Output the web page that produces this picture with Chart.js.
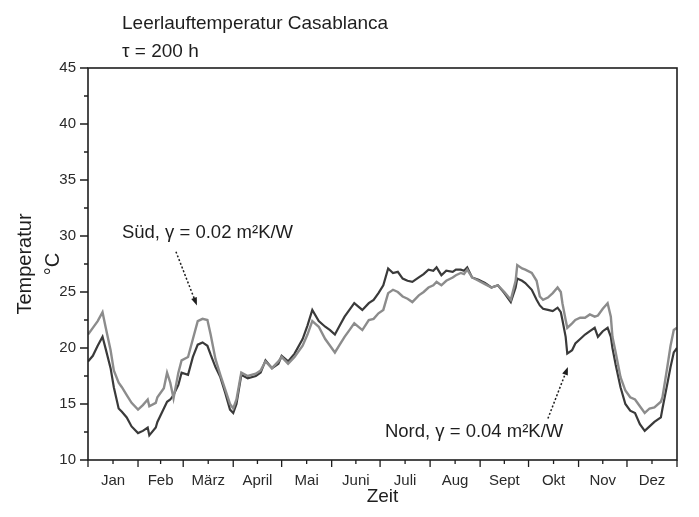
<!DOCTYPE html>
<html>
<head>
<meta charset="utf-8">
<script src="https://cdn.jsdelivr.net/npm/chart.js@4.4.1/dist/chart.umd.min.js"></script>
<style>
  html, body { margin: 0; padding: 0; background: #fff; }
  #wrap { width: 699px; height: 517px; position: relative; }
</style>
</head>
<body>
<div id="wrap"><canvas id="leerlauf"></canvas></div>
<script>
// Tag im Jahr (0..365)
const tage = [0, 3, 6, 9, 11, 14, 16, 19, 21, 24, 27, 31, 34, 37, 38, 42, 43, 47, 49, 51, 53, 56, 58, 62, 65, 68,
  71, 74, 76, 79, 82, 85, 88, 90, 92, 95, 99, 104, 107, 110, 114, 118, 120, 124, 128, 133, 136, 139, 143, 147,
  150, 153, 156, 159, 162, 165, 170, 174, 177, 180, 183, 186, 189, 192, 195, 198, 201, 205, 208, 211, 214, 216,
  219, 222, 226, 228, 231, 233, 235, 238, 242, 246, 250, 254, 258, 262, 265, 266, 269, 271, 275, 278, 280, 282,
  285, 288, 291, 293, 294, 296, 297, 300, 302, 305, 308, 311, 314, 316, 319, 322, 324, 325, 327, 330, 333, 336,
  339, 342, 345, 348, 351, 355, 356, 359, 361, 363, 365];

// Süd, gamma = 0.02 m²K/W
const sued = [21.2, 21.8, 22.4, 23.2, 21.8, 19.8, 18.0, 16.9, 16.5, 15.8, 15.1, 14.5, 14.9, 15.4, 14.8, 15.1, 15.6,
  16.4, 17.8, 16.9, 15.5, 17.8, 18.9, 19.2, 20.8, 22.4, 22.6, 22.5, 21.2, 19.0, 17.6, 16.3, 15.0, 14.6, 15.4, 17.8,
  17.5, 17.7, 18.0, 18.8, 18.2, 18.8, 19.2, 18.6, 19.2, 20.2, 21.2, 22.4, 21.9, 20.8, 20.2, 19.6, 20.3, 21.0, 21.6,
  22.2, 21.6, 22.5, 22.6, 23.1, 23.4, 24.9, 25.2, 25.0, 24.6, 24.4, 24.1, 24.7, 25.0, 25.4, 25.6, 25.9, 25.6, 26.0,
  26.3, 26.5, 26.7, 26.6, 27.0, 26.3, 26.0, 25.7, 25.4, 25.6, 25.0, 24.3, 26.0, 27.4, 27.1, 27.0, 26.7, 26.0, 24.6,
  24.3, 24.5, 24.9, 25.4, 25.0, 24.0, 22.5, 21.8, 22.2, 22.5, 22.7, 22.7, 23.0, 22.8, 22.9, 23.5, 24.0, 22.8, 21.0,
  19.6, 17.4, 16.2, 15.6, 15.4, 14.8, 14.2, 14.6, 14.7, 15.2, 15.6, 18.3, 20.2, 21.6, 21.8];

// Nord, gamma = 0.04 m²K/W
const nord = [18.8, 19.3, 20.2, 21.0, 19.9, 18.2, 16.5, 14.6, 14.3, 13.8, 13.0, 12.4, 12.6, 12.9, 12.2, 12.9, 13.4,
  14.6, 15.2, 15.4, 15.8, 16.7, 17.8, 17.6, 19.2, 20.3, 20.5, 20.2, 19.4, 18.3, 17.4, 16.0, 14.5, 14.2, 15.0, 17.6,
  17.3, 17.5, 17.8, 18.9, 18.2, 18.6, 19.3, 18.8, 19.5, 20.8, 22.0, 23.4, 22.4, 21.9, 21.6, 21.2, 22.0, 22.8, 23.4,
  24.0, 23.4, 24.0, 24.3, 24.9, 25.6, 27.1, 26.7, 26.8, 26.2, 26.0, 25.9, 26.3, 26.6, 27.0, 26.9, 27.2, 26.5, 26.9,
  26.8, 27.0, 27.0, 26.9, 27.2, 26.3, 26.1, 25.8, 25.4, 25.6, 24.9, 24.1, 25.4, 26.2, 26.0, 25.8, 25.2, 24.3, 23.8,
  23.5, 23.4, 23.3, 23.6, 23.2, 22.5, 21.0, 19.5, 19.8, 20.4, 20.8, 21.2, 21.5, 21.8, 21.0, 21.5, 21.8, 21.0, 20.0,
  18.5, 16.5, 15.0, 14.4, 14.2, 13.2, 12.6, 13.0, 13.4, 13.8, 14.6, 16.8, 18.3, 19.6, 20.0];

const monate = ['Jan', 'Feb', 'März', 'April', 'Mai', 'Juni', 'Juli', 'Aug', 'Sept', 'Okt', 'Nov', 'Dez'];
const monatsGrenzen = [0, 31, 59, 90, 120, 151, 181, 212, 243, 273, 304, 334, 365];
const monatsMitte = monatsGrenzen.slice(0, 12).map((g, i) => (g + monatsGrenzen[i + 1]) / 2);

const ink = '#1e1e1e';
const schrift = '"Liberation Sans", Arial, sans-serif';

// Rahmen, Teilstriche, Titel und Beschriftungen mit Pfeilen
const rahmenPlugin = {
  id: 'rahmen',
  afterDraw(chart) {
    const { ctx, chartArea: a, scales: { x, y } } = chart;
    ctx.save();
    ctx.strokeStyle = ink;
    ctx.lineWidth = 1.6;
    ctx.strokeRect(a.left, a.top, a.right - a.left, a.bottom - a.top);

    ctx.lineWidth = 1.3;
    ctx.beginPath();
    monatsGrenzen.forEach(v => {
      const px = x.getPixelForValue(v);
      ctx.moveTo(px, a.bottom); ctx.lineTo(px, a.bottom + 7);
    });
    monatsMitte.forEach(v => {
      const px = x.getPixelForValue(v);
      ctx.moveTo(px, a.bottom); ctx.lineTo(px, a.bottom + 4);
    });
    for (let t = 10; t <= 45; t += 2.5) {
      const py = y.getPixelForValue(t);
      const len = t % 5 === 0 ? 8 : 4;
      ctx.moveTo(a.left, py); ctx.lineTo(a.left - len, py);
    }
    ctx.stroke();

    // Titel
    ctx.fillStyle = ink;
    ctx.textBaseline = 'alphabetic';
    ctx.textAlign = 'left';
    ctx.font = '19px ' + schrift;
    ctx.fillText('Leerlauftemperatur Casablanca', 122, 29);
    ctx.fillText('\u03C4 = 200 h', 122, 57);

    // Beschriftungen der Kurven
    ctx.font = '18.5px ' + schrift;
    ctx.textBaseline = 'middle';
    ctx.fillText('Süd, \u03B3 = 0.02 m²K/W', x.getPixelForValue(21), y.getPixelForValue(30.3));
    ctx.fillText('Nord, \u03B3 = 0.04 m²K/W', x.getPixelForValue(184), y.getPixelForValue(12.5));

    pfeil(ctx, x.getPixelForValue(54.5), y.getPixelForValue(28.6), x.getPixelForValue(67.5), y.getPixelForValue(23.8));
    pfeil(ctx, x.getPixelForValue(285), y.getPixelForValue(13.7), x.getPixelForValue(297.4), y.getPixelForValue(18.3));
    ctx.restore();
  }
};

function pfeil(ctx, x0, y0, x1, y1) {
  const w = Math.atan2(y1 - y0, x1 - x0);
  ctx.save();
  ctx.strokeStyle = ink;
  ctx.lineWidth = 1.5;
  ctx.setLineDash([2, 2]);
  ctx.beginPath();
  ctx.moveTo(x0, y0);
  ctx.lineTo(x1 - 6 * Math.cos(w), y1 - 6 * Math.sin(w));
  ctx.stroke();
  ctx.setLineDash([]);
  ctx.fillStyle = ink;
  ctx.beginPath();
  ctx.moveTo(x1, y1);
  ctx.lineTo(x1 - 8 * Math.cos(w) + 3 * Math.sin(w), y1 - 8 * Math.sin(w) - 3 * Math.cos(w));
  ctx.lineTo(x1 - 8 * Math.cos(w) - 3 * Math.sin(w), y1 - 8 * Math.sin(w) + 3 * Math.cos(w));
  ctx.closePath();
  ctx.fill();
  ctx.restore();
}

const punkte = werte => tage.map((t, i) => ({ x: t, y: werte[i] }));

new Chart(document.getElementById('leerlauf'), {
  type: 'line',
  data: {
    datasets: [
      {
        label: 'Süd',
        data: punkte(sued),
        borderColor: '#8c8c8c',
        borderWidth: 2.4,
        pointRadius: 0,
        tension: 0
      },
      {
        label: 'Nord',
        data: punkte(nord),
        borderColor: '#3a3a3a',
        borderWidth: 2.2,
        pointRadius: 0,
        tension: 0
      }
    ]
  },
  options: {
    responsive: true,
    maintainAspectRatio: false,
    animation: false,
    layout: { padding: { top: 68, right: 22, left: 0, bottom: 0 } },
    plugins: {
      legend: { display: false },
      tooltip: { enabled: false }
    },
    scales: {
      x: {
        type: 'linear',
        min: 0,
        max: 365,
        grid: { display: false },
        border: { display: false },
        afterBuildTicks: scale => { scale.ticks = monatsMitte.map(v => ({ value: v })); },
        afterFit: scale => { scale.height = 57; },
        ticks: {
          autoSkip: false,
          maxRotation: 0,
          padding: 4,
          color: '#2a2a2a',
          font: { family: schrift, size: 15 },
          callback: (v, i) => monate[i]
        },
        title: {
          display: true,
          text: 'Zeit',
          color: ink,
          font: { family: schrift, size: 19 },
          padding: { top: 0, bottom: 9 }
        }
      },
      y: {
        min: 10,
        max: 45,
        grid: { display: false },
        border: { display: false },
        afterFit: scale => { scale.width = 88; },
        ticks: {
          stepSize: 5,
          padding: 4,
          color: '#2a2a2a',
          font: { family: schrift, size: 15 }
        },
        title: {
          display: true,
          text: ['Temperatur', '°C'],
          color: ink,
          font: { family: schrift, size: 20, lineHeight: 1.4 },
          padding: { top: 11, bottom: 0 }
        }
      }
    }
  },
  plugins: [rahmenPlugin]
});
</script>
</body>
</html>
